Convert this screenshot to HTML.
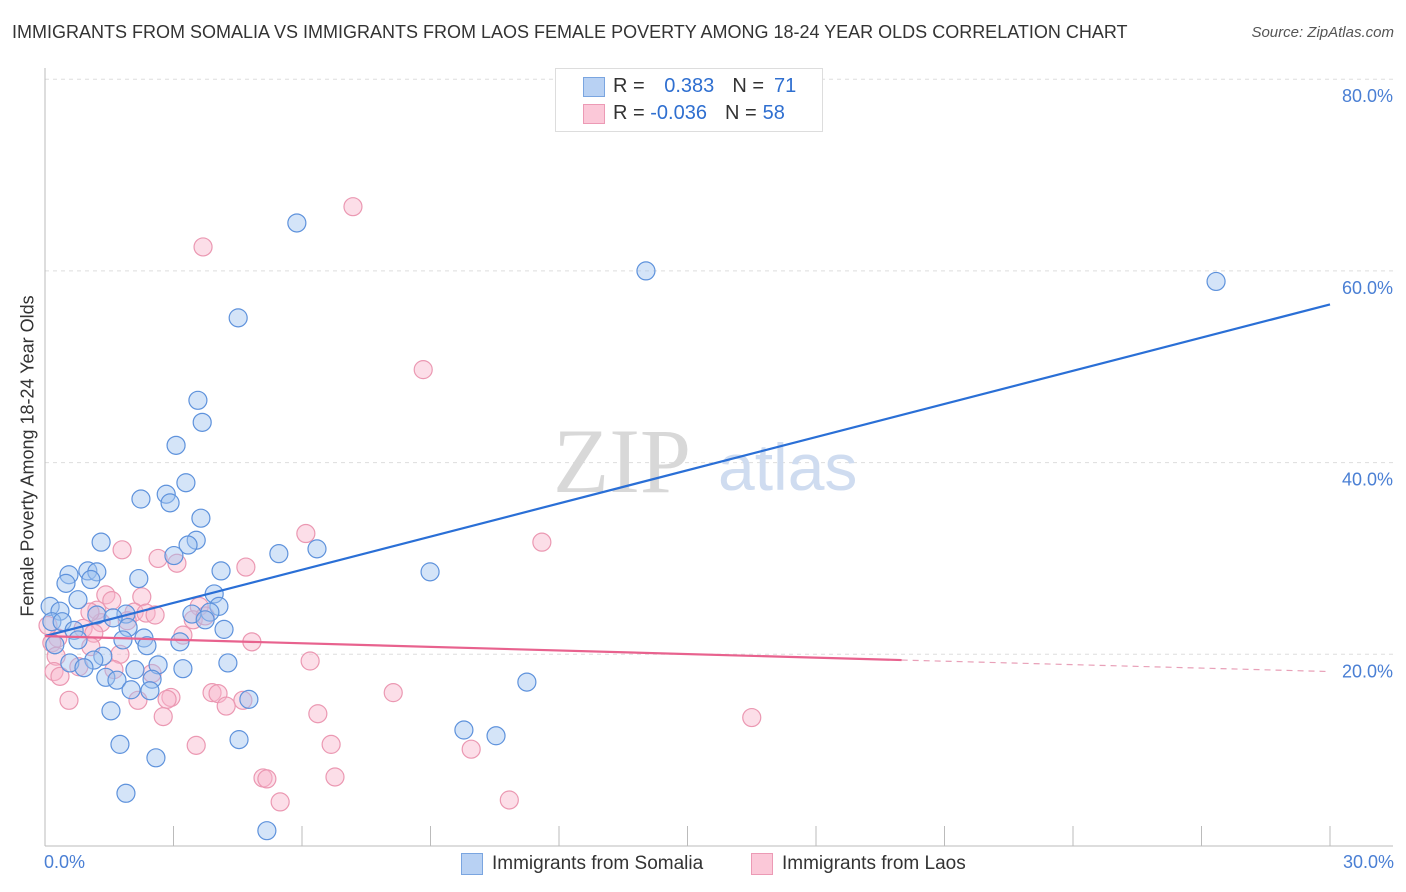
<!DOCTYPE html>
<html><head><meta charset="utf-8"><style>
body{margin:0;background:#fff;font-family:"Liberation Sans",sans-serif;}
#wrap{position:relative;width:1406px;height:892px;overflow:hidden}
.t{position:absolute;white-space:nowrap}
</style></head><body><div id="wrap">
<div class="t" style="left:12px;top:22px;font-size:18px;color:#333">IMMIGRANTS FROM SOMALIA VS IMMIGRANTS FROM LAOS FEMALE POVERTY AMONG 18-24 YEAR OLDS CORRELATION CHART</div>
<div class="t" style="right:12px;top:24px;font-size:15px;color:#555;font-style:italic">Source: ZipAtlas.com</div>
<svg id="svg" width="1406" height="892" style="position:absolute;left:0;top:0"></svg>
</div>
<script>
const xTicks=[0,3,6,9,12,15,18,21,24,27,30];
const yTicks=[20,40,60,80];
const yTickLabels=["20.0%","40.0%","60.0%","80.0%"];
const somaliaX=[5.88,14.03,27.34,4.51,3.57,3.67,3.06,3.29,2.24,2.83,2.92,3.64,1.31,3.53,3.34,3.01,5.46,6.35,8.99,4.11,0.56,1.0,1.21,0.49,1.07,2.19,0.77,3.95,4.06,0.12,0.35,3.85,3.43,1.89,1.21,1.59,3.74,0.16,0.4,1.94,0.68,4.18,1.82,2.31,2.38,3.15,0.77,0.23,1.35,1.14,0.58,2.64,4.27,3.22,2.1,0.91,1.42,1.68,2.5,11.25,2.01,2.45,4.76,1.54,9.78,10.53,4.53,1.75,2.59,1.89,5.18];
const somaliaY=[65.0,60.0,58.9,55.1,46.5,44.2,41.8,37.9,36.2,36.7,35.8,34.2,31.7,31.9,31.4,30.3,30.5,31.0,28.6,28.7,28.3,28.7,28.6,27.4,27.8,27.9,25.7,26.3,25.0,25.0,24.5,24.4,24.2,24.2,24.1,23.8,23.6,23.4,23.4,22.8,22.5,22.6,21.5,21.7,20.9,21.3,21.5,21.0,19.8,19.4,19.1,18.9,19.1,18.5,18.4,18.6,17.6,17.3,17.4,17.1,16.3,16.2,15.3,14.1,12.1,11.5,11.1,10.6,9.2,5.5,1.6];
const laosX=[7.19,3.69,8.83,6.09,11.6,1.8,2.64,3.08,4.69,1.42,1.56,2.26,1.21,2.08,2.36,2.57,3.6,3.46,1.92,1.31,0.89,1.14,3.22,0.3,0.16,4.83,1.07,1.75,0.26,6.19,0.79,1.61,2.5,0.21,0.35,3.9,4.04,2.94,2.85,8.13,2.17,4.62,0.56,4.23,6.37,2.76,16.5,3.53,6.68,9.95,5.09,5.18,6.77,5.49,10.84,0.07,1.05,3.74];
const laosY=[66.7,62.5,49.7,32.6,31.7,30.9,30.0,29.5,29.1,26.2,25.6,26.0,24.6,24.4,24.3,24.1,25.0,23.6,23.5,23.3,22.7,22.2,22.0,21.7,21.2,21.3,20.8,20.0,19.8,19.3,18.7,18.4,18.0,18.2,17.7,16.0,15.9,15.5,15.3,16.0,15.2,15.2,15.2,14.6,13.8,13.5,13.4,10.5,10.6,10.1,7.1,7.0,7.2,4.6,4.8,23.0,24.4,24.0];
const somaliaTrend=[[0,21.9],[30,56.5]];
const laosTrendSolid=[[0,21.9],[20,19.4]];
const laosTrendDash=[[20,19.4],[30,18.2]];
const NS="http://www.w3.org/2000/svg";
const svg=document.getElementById('svg');
const X0=45,X1=1330,Y0=846,YS=191.7/20;
const sx=v=>X0+(X1-X0)*v/30, sy=v=>Y0-v*YS;
function el(tag,attrs,parent){const e=document.createElementNS(NS,tag);for(const k in attrs)e.setAttribute(k,attrs[k]);(parent||svg).appendChild(e);return e;}
yTicks.forEach((t,i)=>{
 const g=el('line',{x1:X0,x2:1393,y1:sy(t),y2:sy(t),stroke:'#ddd','stroke-dasharray':'4,4'});
 
 
 const tx=el('text',{x:1393,y:sy(t)+23,'text-anchor':'end','font-size':18,fill:'#4a7fd4','font-family':'Liberation Sans'});
 tx.textContent=yTickLabels[i];
 
 
});
const ax=el('line',{x1:X0,x2:X0,y1:68,y2:Y0,stroke:'#bbb'});


const bx=el('line',{x1:X0,x2:1393,y1:Y0,y2:Y0,stroke:'#bbb'});


xTicks.slice(1).forEach(t=>{
 const l=el('line',{x1:sx(t),x2:sx(t),y1:826,y2:Y0,stroke:'#bbb'});
 
 
});
const wm1=el('text',{x:553,y:492,'font-size':92,fill:'#d8d8d8','font-family':'Liberation Serif'});wm1.textContent='ZIP';


const wm2=el('text',{x:718,y:490,'font-size':66,fill:'#cfdcf0','font-family':'Liberation Sans'});wm2.textContent='atlas';


laosX.forEach((x,i)=>{
 const c=el('circle',{cx:sx(x),cy:sy(laosY[i]),r:9,fill:'rgba(248,182,204,0.45)',stroke:'#eb98b2','stroke-width':1.2});
 
 
});
somaliaX.forEach((x,i)=>{
 const c=el('circle',{cx:sx(x),cy:sy(somaliaY[i]),r:9,fill:'rgba(160,196,240,0.45)',stroke:'#5e92dc','stroke-width':1.2});
 
 
});
const t1=el('line',{x1:sx(somaliaTrend[0][0]),y1:sy(somaliaTrend[0][1]),x2:sx(somaliaTrend[1][0]),y2:sy(somaliaTrend[1][1]),stroke:'#2a6fd6','stroke-width':2.2});


const t2=el('line',{x1:sx(laosTrendSolid[0][0]),y1:sy(laosTrendSolid[0][1]),x2:sx(laosTrendSolid[1][0]),y2:sy(laosTrendSolid[1][1]),stroke:'#e8628e','stroke-width':2.2});


const t3=el('line',{x1:sx(laosTrendDash[0][0]),y1:sy(laosTrendDash[0][1]),x2:sx(laosTrendDash[1][0]),y2:sy(laosTrendDash[1][1]),stroke:'#e8a0b8','stroke-width':1.2,'stroke-dasharray':'6,5'});


</script>
<div class="t" style="left:28px;top:456px;font-size:18px;color:#333;transform:translate(-50%,-50%) rotate(-90deg)">Female Poverty Among 18-24 Year Olds</div>
<div class="t" style="left:44px;top:852px;font-size:18px;color:#4a7fd4">0.0%</div>
<div class="t" style="right:12px;top:852px;font-size:18px;color:#4a7fd4">30.0%</div>
<div style="position:absolute;left:555px;top:68px;width:266px;height:62px;border:1px solid #ddd;background:#fff;font-size:20px;color:#333">
 <div style="position:absolute;left:27px;top:8px;width:20px;height:18px;background:#b8d1f3;border:1px solid #7aa5e0"></div>
 <div class="t" style="left:57px;top:6px">R = <span style="color:#2f6fd0;margin-left:14px">0.383</span><span style="margin-left:18px">N =</span><span style="color:#2f6fd0;margin-left:10px">71</span></div>
 <div style="position:absolute;left:27px;top:35px;width:20px;height:18px;background:#fbc8d8;border:1px solid #ec9ab5"></div>
 <div class="t" style="left:57px;top:33px">R = <span style="color:#2f6fd0">-0.036</span><span style="margin-left:18px">N =</span><span style="color:#2f6fd0;margin-left:6px">58</span></div>
</div>
<div style="position:absolute;left:461px;top:853px;width:20px;height:20px;background:#b8d1f3;border:1px solid #7aa5e0"></div>
<div class="t" style="left:492px;top:853px;font-size:19px;color:#333">Immigrants from Somalia</div>
<div style="position:absolute;left:751px;top:853px;width:20px;height:20px;background:#fbc8d8;border:1px solid #ec9ab5"></div>
<div class="t" style="left:782px;top:853px;font-size:19px;color:#333">Immigrants from Laos</div>
</body></html>
